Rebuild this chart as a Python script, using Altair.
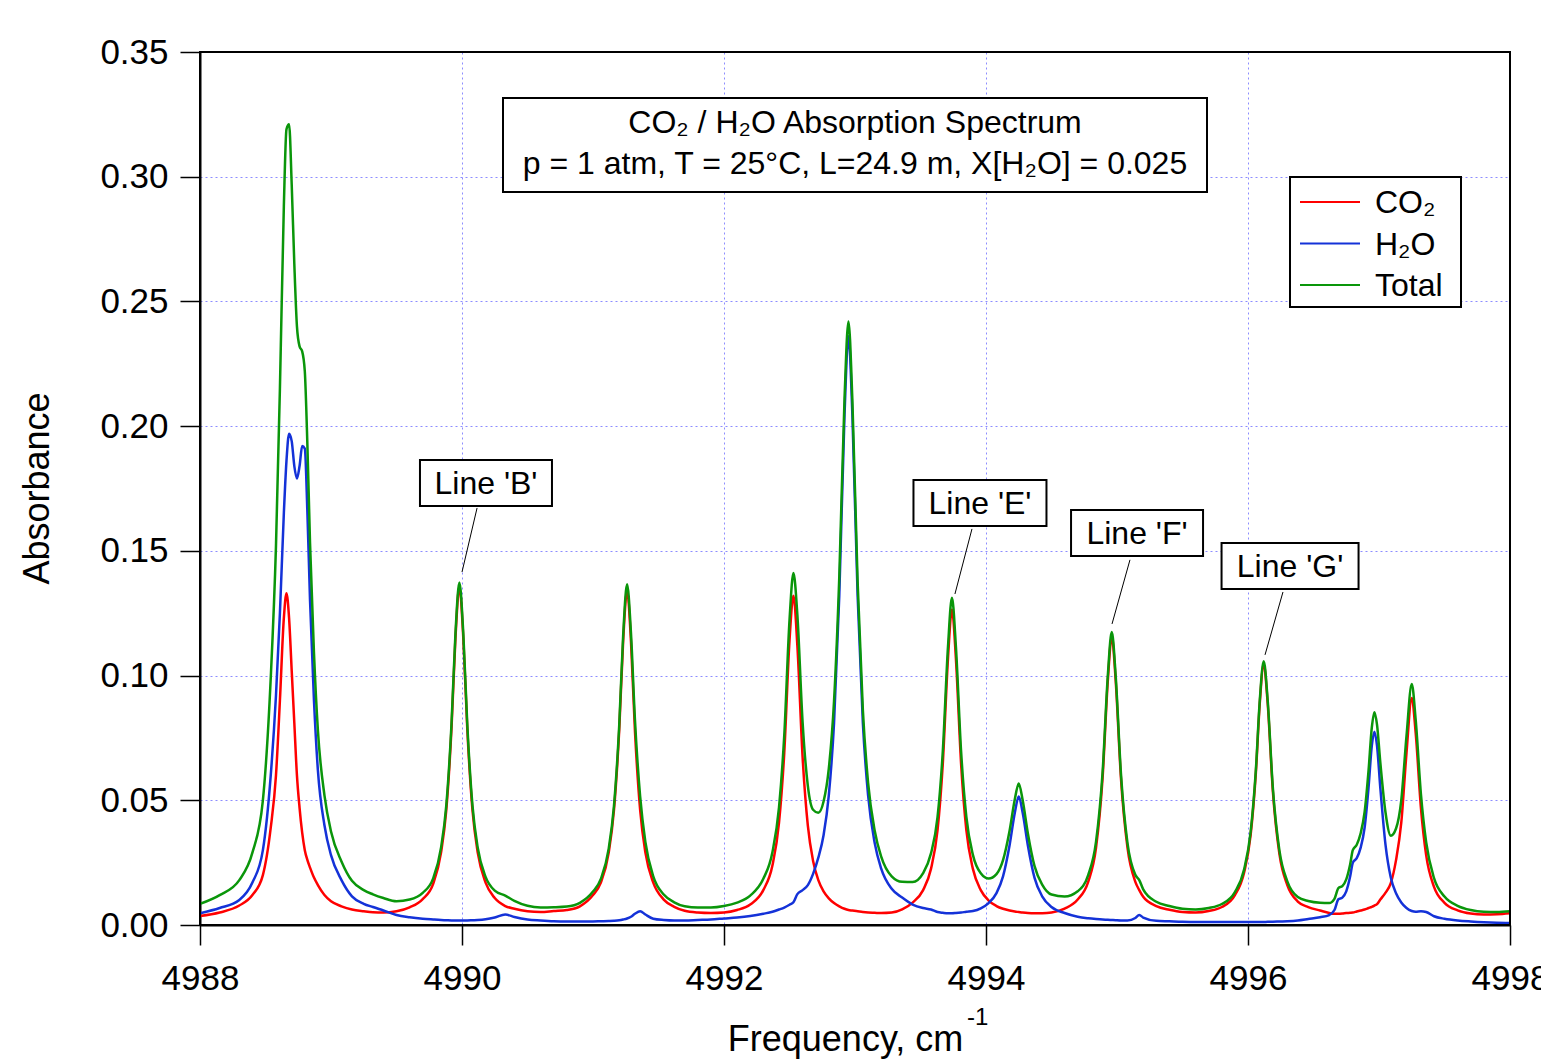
import altair as alt
import pandas as pd

# ---------------- data ----------------
freq = [4988.00, 4988.15, 4988.30, 4988.40, 4988.48, 4988.54, 4988.58, 4988.61, 4988.64, 4988.66,
        4988.68, 4988.70, 4988.72, 4988.74, 4988.76, 4988.78, 4988.80, 4988.82, 4988.84, 4988.87,
        4988.90, 4988.95, 4989.00, 4989.08, 4989.16, 4989.25, 4989.32, 4989.40, 4989.50, 4989.60,
        4989.70, 4989.78, 4989.84, 4989.88, 4989.92, 4989.95, 4989.98, 4990.01, 4990.04, 4990.08,
        4990.12, 4990.18, 4990.25, 4990.33, 4990.40, 4990.50, 4990.60, 4990.70, 4990.80, 4990.90,
        4991.00, 4991.06, 4991.12, 4991.16, 4991.20, 4991.23, 4991.26, 4991.29, 4991.32, 4991.36,
        4991.40, 4991.46, 4991.54, 4991.62, 4991.70, 4991.80, 4991.90, 4992.00, 4992.10, 4992.20,
        4992.30, 4992.37, 4992.42, 4992.46, 4992.50, 4992.53, 4992.56, 4992.60, 4992.64, 4992.68,
        4992.72, 4992.76, 4992.80, 4992.84, 4992.88, 4992.92, 4992.95, 4992.98, 4993.02, 4993.06,
        4993.10, 4993.15, 4993.20, 4993.28, 4993.36, 4993.44, 4993.52, 4993.58, 4993.63, 4993.67,
        4993.71, 4993.74, 4993.77, 4993.81, 4993.85, 4993.90, 4993.96, 4994.02, 4994.08, 4994.13,
        4994.18, 4994.22, 4994.25, 4994.28, 4994.32, 4994.37, 4994.43, 4994.50, 4994.60, 4994.70,
        4994.78, 4994.84, 4994.89, 4994.93, 4994.96, 4994.99, 4995.03, 4995.08, 4995.14, 4995.17,
        4995.20, 4995.30, 4995.40, 4995.50, 4995.60, 4995.70, 4995.80, 4995.90, 4995.97, 4996.02,
        4996.06, 4996.09, 4996.12, 4996.15, 4996.19, 4996.24, 4996.30, 4996.38, 4996.46, 4996.55,
        4996.62, 4996.66, 4996.69, 4996.72, 4996.75, 4996.78, 4996.80, 4996.83, 4996.86, 4996.89,
        4996.92, 4996.945, 4996.965, 4996.985, 4997.01, 4997.05, 4997.09, 4997.13, 4997.17, 4997.21,
        4997.25, 4997.28, 4997.32, 4997.36, 4997.42, 4997.50, 4997.60, 4997.70, 4997.80, 4997.90,
        4998.00]

co2 = [0.0036, 0.0050, 0.0078, 0.0120, 0.0200, 0.0390, 0.0600, 0.0900, 0.1230, 0.1330,
       0.1230, 0.1020, 0.0810, 0.0600, 0.0470, 0.0370, 0.0300, 0.0260, 0.0230, 0.0190,
       0.0160, 0.0120, 0.0095, 0.0075, 0.0062, 0.0055, 0.0051, 0.0050, 0.0055, 0.0071,
       0.0104, 0.0165, 0.0290, 0.0460, 0.0790, 0.1150, 0.1355, 0.1150, 0.0790, 0.0460,
       0.0290, 0.0170, 0.0108, 0.0076, 0.0065, 0.0055, 0.0052, 0.0056, 0.0060, 0.0075,
       0.0120, 0.0170, 0.0290, 0.0460, 0.0780, 0.1136, 0.1340, 0.1136, 0.0780, 0.0460,
       0.0290, 0.0170, 0.0102, 0.0073, 0.0057, 0.0050, 0.0048, 0.0050, 0.0060, 0.0082,
       0.0140, 0.0240, 0.0410, 0.0690, 0.1140, 0.1320, 0.1120, 0.0673, 0.0398, 0.0257,
       0.0180, 0.0135, 0.0107, 0.0088, 0.0075, 0.0065, 0.0060, 0.0058, 0.0055, 0.0052,
       0.0050, 0.0049, 0.0048, 0.0050, 0.0063, 0.0090, 0.0140, 0.0225, 0.0380, 0.0645,
       0.1070, 0.1265, 0.1070, 0.0645, 0.0380, 0.0225, 0.0140, 0.0098, 0.0076, 0.0065,
       0.0058, 0.0054, 0.0052, 0.0050, 0.0048, 0.0047, 0.0047, 0.0050, 0.0066, 0.0102,
       0.0173, 0.0310, 0.0590, 0.0980, 0.1155, 0.0980, 0.0590, 0.0310, 0.0173, 0.0140,
       0.0113, 0.0076, 0.0061, 0.0052, 0.0050, 0.0056, 0.0072, 0.0120, 0.0210, 0.0360,
       0.0610, 0.0890, 0.1045, 0.0890, 0.0535, 0.0284, 0.0160, 0.0094, 0.0072, 0.0058,
       0.0048, 0.0045, 0.0045, 0.0046, 0.0048, 0.0049, 0.0050, 0.0054, 0.0058, 0.0062,
       0.0068, 0.0073, 0.0078, 0.0084, 0.0102, 0.0130, 0.0168, 0.0260, 0.0410, 0.0690,
       0.0910, 0.0770, 0.0470, 0.0280, 0.0153, 0.0089, 0.0059, 0.0046, 0.0042, 0.0043,
       0.0047]

h2o = [0.0047, 0.0068, 0.0100, 0.0170, 0.0300, 0.0600, 0.0920, 0.1250, 0.1650, 0.1860,
       0.1970, 0.1940, 0.1840, 0.1790, 0.1840, 0.1920, 0.1910, 0.1650, 0.1300, 0.0900,
       0.0620, 0.0400, 0.0280, 0.0180, 0.0115, 0.0085, 0.0072, 0.0058, 0.0040, 0.0031,
       0.0025, 0.0022, 0.0020, 0.0019, 0.0018, 0.0018, 0.0018, 0.0018, 0.0018, 0.0019,
       0.0020, 0.0023, 0.0030, 0.0042, 0.0032, 0.0022, 0.0018, 0.0015, 0.0014, 0.0014,
       0.0014, 0.0015, 0.0016, 0.0017, 0.0019, 0.0022, 0.0026, 0.0033, 0.0045, 0.0055,
       0.0042, 0.0025, 0.0020, 0.0018, 0.0018, 0.0020, 0.0022, 0.0026, 0.0030, 0.0036,
       0.0045, 0.0053, 0.0062, 0.0070, 0.0081, 0.0091, 0.0124, 0.0140, 0.0160, 0.0205,
       0.0270, 0.0360, 0.0520, 0.0810, 0.1320, 0.2045, 0.2360, 0.2045, 0.1320, 0.0810,
       0.0520, 0.0330, 0.0226, 0.0145, 0.0110, 0.0082, 0.0068, 0.0062, 0.0052, 0.0049,
       0.0047, 0.0047, 0.0048, 0.0050, 0.0053, 0.0056, 0.0067, 0.0088, 0.0128, 0.0195,
       0.0320, 0.0450, 0.0515, 0.0450, 0.0318, 0.0190, 0.0114, 0.0072, 0.0048, 0.0033,
       0.0027, 0.0024, 0.0022, 0.0021, 0.0020, 0.0019, 0.0018, 0.0018, 0.0028, 0.0040,
       0.0030, 0.0017, 0.0015, 0.0013, 0.0012, 0.0012, 0.0012, 0.0012, 0.0012, 0.0012,
       0.0012, 0.0012, 0.0012, 0.0013, 0.0013, 0.0014, 0.0015, 0.0018, 0.0024, 0.0031,
       0.0040, 0.0060, 0.0103, 0.0110, 0.0135, 0.0195, 0.0250, 0.0268, 0.0310, 0.0390,
       0.0550, 0.0718, 0.0775, 0.0718, 0.0550, 0.0320, 0.0190, 0.0127, 0.0090, 0.0068,
       0.0056, 0.0053, 0.0055, 0.0052, 0.0035, 0.0025, 0.0018, 0.0014, 0.0011, 0.0009,
       0.0008]

total = [0.0085, 0.0120, 0.0180, 0.0290, 0.0500, 0.0990, 0.1520, 0.2150, 0.2880, 0.3190,
         0.3210, 0.2970, 0.2650, 0.2400, 0.2320, 0.2300, 0.2220, 0.1920, 0.1530, 0.1090,
         0.0780, 0.0520, 0.0375, 0.0255, 0.0177, 0.0140, 0.0123, 0.0108, 0.0095, 0.0102,
         0.0129, 0.0187, 0.0310, 0.0479, 0.0808, 0.1168, 0.1373, 0.1168, 0.0808, 0.0479,
         0.0310, 0.0193, 0.0138, 0.0118, 0.0097, 0.0077, 0.0070, 0.0071, 0.0074, 0.0089,
         0.0134, 0.0185, 0.0306, 0.0477, 0.0799, 0.1158, 0.1366, 0.1169, 0.0825, 0.0515,
         0.0332, 0.0195, 0.0122, 0.0091, 0.0075, 0.0070, 0.0070, 0.0076, 0.0090, 0.0118,
         0.0185, 0.0293, 0.0472, 0.0760, 0.1221, 0.1411, 0.1244, 0.0813, 0.0558, 0.0462,
         0.0450, 0.0495, 0.0627, 0.0898, 0.1395, 0.2110, 0.2420, 0.2103, 0.1375, 0.0862,
         0.0570, 0.0379, 0.0274, 0.0195, 0.0173, 0.0172, 0.0208, 0.0287, 0.0432, 0.0694,
         0.1117, 0.1312, 0.1118, 0.0695, 0.0433, 0.0281, 0.0207, 0.0186, 0.0204, 0.0260,
         0.0378, 0.0504, 0.0567, 0.0500, 0.0366, 0.0237, 0.0161, 0.0122, 0.0114, 0.0135,
         0.0200, 0.0334, 0.0612, 0.1001, 0.1175, 0.0999, 0.0608, 0.0328, 0.0201, 0.0180,
         0.0143, 0.0093, 0.0076, 0.0065, 0.0062, 0.0068, 0.0084, 0.0132, 0.0222, 0.0372,
         0.0622, 0.0902, 0.1057, 0.0903, 0.0548, 0.0298, 0.0175, 0.0112, 0.0096, 0.0089,
         0.0088, 0.0105, 0.0148, 0.0156, 0.0183, 0.0244, 0.0300, 0.0322, 0.0368, 0.0452,
         0.0618, 0.0791, 0.0853, 0.0802, 0.0652, 0.0450, 0.0358, 0.0387, 0.0500, 0.0758,
         0.0966, 0.0823, 0.0525, 0.0332, 0.0188, 0.0114, 0.0077, 0.0060, 0.0053, 0.0052,
         0.0055]

series_names = ["CO\u2082", "H\u2082O", "Total"]
series_colors = ["#FF0000", "#1432D8", "#0A960A"]

x_ticks = [4988, 4990, 4992, 4994, 4996, 4998]
y_ticks = [0.0, 0.05, 0.10, 0.15, 0.20, 0.25, 0.30, 0.35]

# peak tags: label, tip of leader (data), top of leader (data), box centre (data)
tag_labels = ["Line 'B'", "Line 'E'", "Line 'F'", "Line 'G'"]
tag_tip_f = [4990.00, 4993.763, 4994.962, 4996.13]
tag_tip_a = [0.1415, 0.1327, 0.1207, 0.1083]
tag_top_f = [4990.115, 4993.893, 4995.099, 4996.267]
tag_top_a = [0.1672, 0.1588, 0.1464, 0.1335]
tag_box_f = [4990.183, 4993.954, 4995.153, 4996.321]
tag_box_a = [0.1772, 0.1692, 0.1572, 0.1439]

title_line1 = "CO\u2082 / H\u2082O Absorption Spectrum"
title_line2 = "p = 1 atm, T = 25\u00b0C, L=24.9 m, X[H\u2082O] = 0.025"
x_title = "Frequency, cm"
x_title_sup = "-1"

# ---------------- layout ----------------
W, H = 1310, 873
FONT = "Liberation Sans"
px_per_f = W / 10.0
px_per_a = H / 0.35
tag_box_wpx = [132, 133, 132, 137]
tag_box_hpx = 46
LW = 2.5

xscale = alt.Scale(domain=[4988, 4998], nice=False, zero=False)
yscale = alt.Scale(domain=[0, 0.35], nice=False, zero=False)

x_axis = alt.Axis(values=x_ticks, format="d", title=x_title,
                  tickSize=20, tickWidth=1.5, tickColor="black",
                  labelPadding=16, labelFontSize=35, labelFont=FONT, labelColor="black",
                  labelFlush=False, labelOverlap=False,
                  titleFontSize=36, titleFont=FONT, titleFontWeight="normal", titleColor="black",
                  titleX=645, titleY=114, titleAlign="center", titleBaseline="middle",
                  grid=True, gridColor="#8C8CFF", gridDash=[2, 3], gridWidth=1,
                  domainColor="black", domainWidth=2)
y_axis = alt.Axis(values=y_ticks, format=".2f", title="Absorbance",
                  tickSize=20, tickWidth=1.5, tickColor="black",
                  labelPadding=12, labelFontSize=35, labelFont=FONT, labelColor="black",
                  labelFlush=False, labelOverlap=False,
                  titleFontSize=36, titleFont=FONT, titleFontWeight="normal", titleColor="black",
                  titleX=-163, titleY=436, titleAngle=270, titleAlign="center", titleBaseline="middle",
                  grid=True, gridColor="#8C8CFF", gridDash=[2, 3], gridWidth=1,
                  domainColor="black", domainWidth=2)


def X(field):
    return alt.X(field, type="quantitative", scale=xscale, axis=x_axis)


def Y(field):
    return alt.Y(field, type="quantitative", scale=yscale, axis=y_axis)


layers = []
for name, vals, col in zip(series_names, [co2, h2o, total], series_colors):
    d = pd.DataFrame({"freq": freq, "absorbance": vals, "series": name})
    layers.append(
        alt.Chart(d).mark_line(color=col, strokeWidth=LW, interpolate="monotone", clip=True)
        .encode(x=X("freq"), y=Y("absorbance"))
    )

# tags
tags = pd.DataFrame({
    "label": tag_labels,
    "tip_f": tag_tip_f, "tip_a": tag_tip_a,
    "top_f": tag_top_f, "top_a": tag_top_a,
    "box_f": tag_box_f, "box_a": tag_box_a,
})
tags["x1"] = [f - w / 2 / px_per_f for f, w in zip(tag_box_f, tag_box_wpx)]
tags["x2"] = [f + w / 2 / px_per_f for f, w in zip(tag_box_f, tag_box_wpx)]
tags["y1"] = [a - tag_box_hpx / 2 / px_per_a for a in tag_box_a]
tags["y2"] = [a + tag_box_hpx / 2 / px_per_a for a in tag_box_a]

tag_lead = alt.Chart(tags).mark_rule(color="black", strokeWidth=1).encode(
    x=X("tip_f"), y=Y("tip_a"), x2="top_f", y2="top_a")
tag_box = alt.Chart(tags).mark_rect(fill="white", stroke="black", strokeWidth=2).encode(
    x=X("x1"), x2="x2", y=Y("y1"), y2="y2")
tag_text = alt.Chart(tags).mark_text(font=FONT, fontSize=32, color="black",
                                     align="center", baseline="middle", dy=1).encode(
    x=X("box_f"), y=Y("box_a"), text="label:N")

one = pd.DataFrame({"k": [0]})

# plot frame drawn on top of the gridlines
frame = alt.Chart(one).mark_rect(fillOpacity=0, stroke="black", strokeWidth=2).encode(
    x=alt.value(0), x2=alt.value(W), y=alt.value(0), y2=alt.value(H))

# superscript of the x-axis title
x_sup = alt.Chart(one).mark_text(text=x_title_sup, font=FONT, fontSize=24, color="black",
                                 align="left", baseline="middle").encode(
    x=alt.value(767), y=alt.value(966))

# title box (pixel positions inside the plot area)
title_box = alt.Chart(one).mark_rect(fill="white", stroke="black", strokeWidth=2).encode(
    x=alt.value(303), x2=alt.value(1007), y=alt.value(46), y2=alt.value(140))
title_t1 = alt.Chart(one).mark_text(text=title_line1, font=FONT, fontSize=32, color="black",
                                    align="center", baseline="middle").encode(
    x=alt.value(655), y=alt.value(71))
title_t2 = alt.Chart(one).mark_text(text=title_line2, font=FONT, fontSize=32, color="black",
                                    align="center", baseline="middle").encode(
    x=alt.value(655), y=alt.value(112))

# legend box
leg_layers = [alt.Chart(one).mark_rect(fill="white", stroke="black", strokeWidth=2).encode(
    x=alt.value(1090), x2=alt.value(1261), y=alt.value(125), y2=alt.value(255))]
for i, (name, col) in enumerate(zip(series_names, series_colors)):
    yy = 150 + i * 41.5
    leg_layers.append(alt.Chart(one).mark_rule(color=col, strokeWidth=2).encode(
        x=alt.value(1100), x2=alt.value(1160), y=alt.value(yy)))
    leg_layers.append(alt.Chart(one).mark_text(text=name, font=FONT, fontSize=32, color="black",
                                               align="left", baseline="middle").encode(
        x=alt.value(1175), y=alt.value(yy + 1)))

chart = alt.layer(
    *layers, frame, tag_lead, tag_box, tag_text,
    title_box, title_t1, title_t2, *leg_layers, x_sup
).properties(
    width=W, height=H,
    autosize=alt.AutoSizeParams(type="none"),
    padding={"left": 200, "top": 52, "right": 31, "bottom": 134},
    background="white",
).configure_view(stroke="black", strokeWidth=2).configure(font=FONT)

chart.save("out.html", embed_options={"renderer": "svg", "actions": False})
